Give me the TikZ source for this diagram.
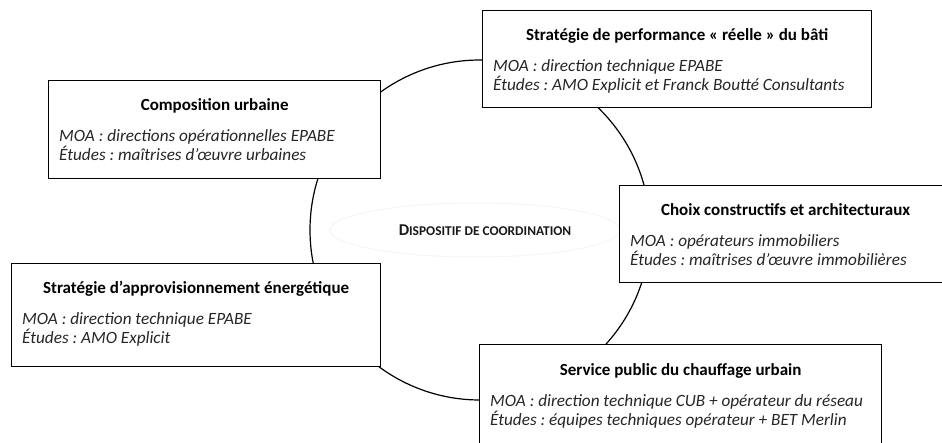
\documentclass[tikz,border=0pt]{standalone}
\usepackage{fontspec}
\setmainfont{Carlito}
\usetikzlibrary{shapes.geometric}
\frenchspacing
\begin{document}
\begin{tikzpicture}[x=1pt,y=-1pt,
  box/.style={draw=black, fill=white, line width=1.3pt, inner sep=0pt, anchor=north west},
  ttl/.style={font=\fontsize{17}{20}\selectfont\bfseries, anchor=base, inner sep=0pt},
  body/.style={font=\fontsize{17.2}{20}\selectfont\itshape, anchor=base west, inner sep=0pt, text=black!85},
  ring/.style={draw=black, line width=1.2pt, circle, inner sep=0pt}]
\clip (0,0) rectangle (942,443);
\useasboundingbox (0,0) rectangle (942,443);
% faint ellipse and ring
\node[draw=black!4, line width=1pt, ellipse, minimum width=290pt, minimum height=54pt, inner sep=0pt] (halo) at (475,230) {};
\node[ring, minimum size=340pt] (ring) at (480,230) {};
\node[font=\bfseries, text=black!90, inner sep=0pt] (disp) at (485,230)
  {{\fontsize{16.5}{18}\selectfont D}{\fontsize{13.4}{15}\selectfont ISPOSITIF DE COORDINATION}};
% boxes
\node[box, minimum width=389pt, minimum height=97pt] (b1) at (482,10) {};
\node[box, minimum width=332pt, minimum height=98pt] (b2) at (48,80) {};
\node[box, minimum width=332pt, minimum height=97pt] (b3) at (619,185) {};
\node[box, minimum width=369pt, minimum height=103pt] (b4) at (11,263) {};
\node[box, minimum width=402pt, minimum height=105pt] (b5) at (479,344) {};
% texts
\node[ttl] (t1) at ([yshift=-31pt]b1.north) {Stratégie de performance « réelle » du bâti};
\node[body] (m1) at ([xshift=11pt,yshift=-62pt]b1.north west) {MOA : direction technique EPABE};
\node[body] (e1) at ([xshift=11pt,yshift=-81pt]b1.north west) {Études : AMO Explicit et Franck Boutté Consultants};
\node[ttl] (t2) at ([yshift=-31pt]b2.north) {Composition urbaine};
\node[body] (m2) at ([xshift=11pt,yshift=-62pt]b2.north west) {MOA : directions opérationnelles EPABE};
\node[body] (e2) at ([xshift=11pt,yshift=-81pt]b2.north west) {Études : maîtrises d’œuvre urbaines};
\node[ttl] (t3) at ([yshift=-31pt]b3.north) {Choix constructifs et architecturaux};
\node[body] (m3) at ([xshift=11pt,yshift=-62pt]b3.north west) {MOA : opérateurs immobiliers};
\node[body] (e3) at ([xshift=11pt,yshift=-81pt]b3.north west) {Études : maîtrises d’œuvre immobilières};
\node[ttl] (t4) at ([yshift=-31pt]b4.north) {Stratégie d’approvisionnement énergétique};
\node[body] (m4) at ([xshift=11pt,yshift=-62pt]b4.north west) {MOA : direction technique EPABE};
\node[body] (e4) at ([xshift=11pt,yshift=-81pt]b4.north west) {Études : AMO Explicit};
\node[ttl] (t5) at ([yshift=-31pt]b5.north) {Service public du chauffage urbain};
\node[body] (m5) at ([xshift=11pt,yshift=-62pt]b5.north west) {MOA : direction technique CUB + opérateur du réseau};
\node[body] (e5) at ([xshift=11pt,yshift=-81pt]b5.north west) {Études : équipes techniques opérateur + BET Merlin};
\end{tikzpicture}
\end{document}
